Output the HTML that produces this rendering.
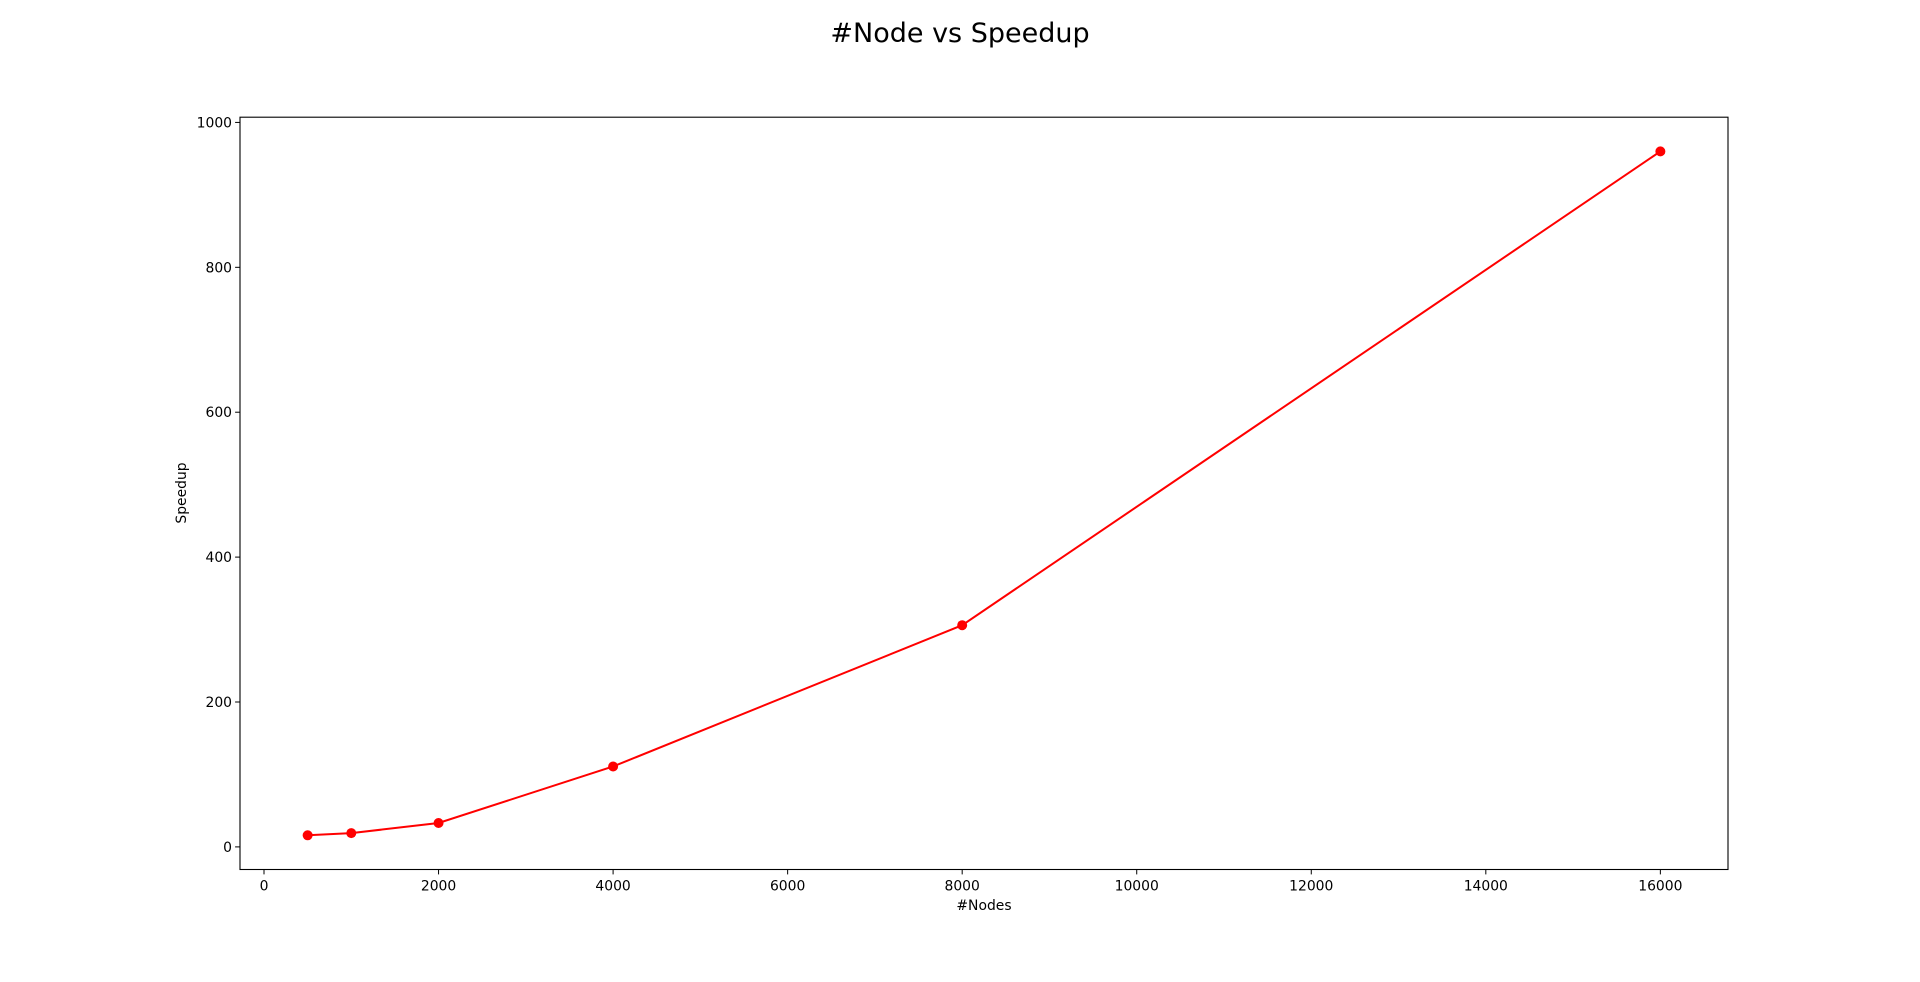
<!DOCTYPE html>
<html><head><meta charset="utf-8"><style>
html,body{margin:0;padding:0;background:#fff;}
svg text{font-family:"DejaVu Sans","Liberation Sans",sans-serif;fill:#000;}
</style></head><body>
<svg id="chart" width="1920" height="977" xmlns="http://www.w3.org/2000/svg">
<rect width="1920" height="977" fill="#fff"/>
<text x="960" y="42" font-size="27" text-anchor="middle">#Node vs Speedup</text>
<g id="xticks"></g>
<g id="yticks"></g>
<g id="series"></g>
<rect x="240" y="117.2" width="1488" height="752.3" fill="none" stroke="#000" stroke-width="1.1"/>
<text x="984" y="910" font-size="13.9" text-anchor="middle">#Nodes</text>
<text x="0" y="0" font-size="13.9" text-anchor="middle" transform="translate(186,493) rotate(-90)">Speedup</text>
</svg>
<script>
const nodes = [500, 1000, 2000, 4000, 8000, 16000];
const speedup = [16, 19, 33, 111, 306, 960];
const xTickValues = [0, 2000, 4000, 6000, 8000, 10000, 12000, 14000, 16000];
const yTickValues = [0, 200, 400, 600, 800, 1000];

const NS = "http://www.w3.org/2000/svg";
const L = 240, R = 1728, T = 117.2, B = 869.5;
const xmn = Math.min(...nodes), xmx = Math.max(...nodes);
const ymn = Math.min(...speedup), ymx = Math.max(...speedup);
const x0 = xmn - (xmx - xmn) * 0.05, x1 = xmx + (xmx - xmn) * 0.05;
const y0 = ymn - (ymx - ymn) * 0.05, y1 = ymx + (ymx - ymn) * 0.05;
const sx = v => L + (v - x0) / (x1 - x0) * (R - L);
const sy = v => B - (v - y0) / (y1 - y0) * (B - T);
function mk(tag, attrs, parent) {
  const e = document.createElementNS(NS, tag);
  for (const k in attrs) e.setAttribute(k, attrs[k]);
  parent.appendChild(e);
  return e;
}
const gx = document.getElementById('xticks');
xTickValues.forEach(v => {
  const x = sx(v);
  if (x < L - 1 || x > R + 1) return;
  const t = mk('line', {x1: x, x2: x, y1: B, y2: B + 4.9, stroke: '#000', 'stroke-width': 1}, gx);
  
  
  const l = mk('text', {x: x, y: B + 21, 'font-size': 13.9, 'text-anchor': 'middle'}, gx);
  l.textContent = v;
  
  
});
const gy = document.getElementById('yticks');
yTickValues.forEach(v => {
  const y = sy(v);
  if (y < T - 1 || y > B + 1) return;
  const t = mk('line', {x1: L - 4.9, x2: L, y1: y, y2: y, stroke: '#000', 'stroke-width': 1}, gy);
  
  
  const l = mk('text', {x: L - 8, y: y + 5, 'font-size': 13.9, 'text-anchor': 'end'}, gy);
  l.textContent = v;
  
  
});
const gs = document.getElementById('series');
const pts = nodes.map((n, i) => sx(n) + ',' + sy(speedup[i])).join(' ');
const line = mk('polyline', {points: pts, fill: 'none', stroke: '#ff0000', 'stroke-width': 2}, gs);


nodes.forEach((n, i) => {
  const c = mk('circle', {cx: sx(n), cy: sy(speedup[i]), r: 5, fill: '#ff0000'}, gs);
  
  
});
</script>
</body></html>
